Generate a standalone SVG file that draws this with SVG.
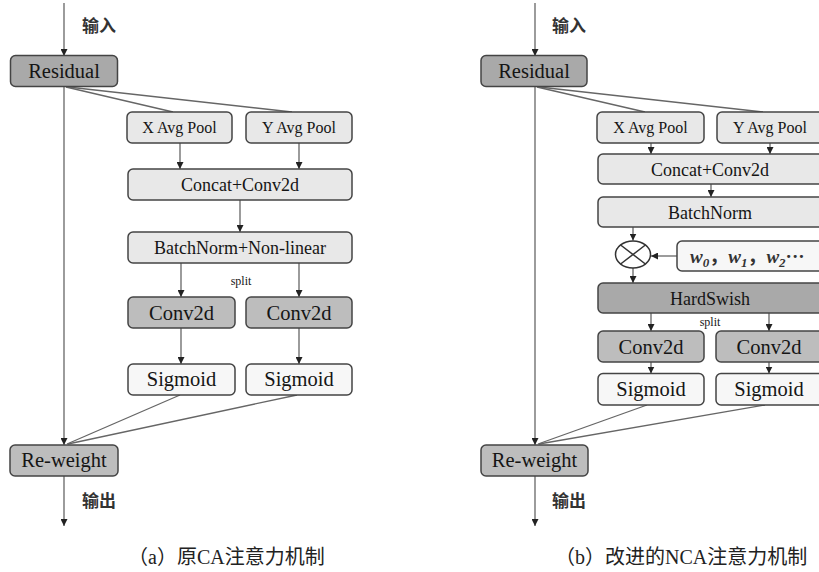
<svg xmlns="http://www.w3.org/2000/svg" width="819" height="572" viewBox="0 0 819 572">
<defs>
<marker id="arr" markerUnits="userSpaceOnUse" markerWidth="7" markerHeight="7" refX="7" refY="3.5" orient="auto">
<path d="M0,0 L7,3.5 L0,7 z" fill="#222"/>
</marker>
<style>
.dark rect{fill:#a9a9a9;stroke:#444;stroke-width:1.5}
.mid rect{fill:#bdbdbd;stroke:#444;stroke-width:1.5}
.light rect{fill:#e8e8e8;stroke:#444;stroke-width:1.5}
.white rect{fill:#f7f7f7;stroke:#444;stroke-width:1.5}
text{font-family:"Liberation Serif",serif;fill:#151515;text-anchor:middle}
.t20{font-size:20.5px}
.t18{font-size:18px}
.t16{font-size:16px}
.small{font-size:12px}
.cjk{font-family:"Noto Sans CJK SC",sans-serif;font-weight:bold;font-size:17px;text-anchor:start;fill:#333}
.cap{font-family:"Liberation Serif","Noto Sans CJK SC",serif;font-size:20px;text-anchor:start;fill:#222}
.wt{font-family:"Liberation Serif","Noto Sans CJK SC",serif;text-anchor:start;font-size:19px;font-weight:bold;font-style:italic;fill:#333}
#connectors line{stroke:#666;stroke-width:1.3;fill:none}
#connectors .a{marker-end:url(#arr)}
</style>
</defs>
<rect width="819" height="572" fill="#fff"/>

<g id="connectors">
<line class="a" x1="64" y1="3" x2="64" y2="56"/>
<line x1="66" y1="87" x2="173" y2="112"/>
<line x1="68" y1="87" x2="292" y2="112"/>
<line class="a" x1="180" y1="143" x2="180" y2="169"/>
<line class="a" x1="299" y1="143" x2="299" y2="169"/>
<line class="a" x1="240" y1="200" x2="240" y2="232"/>
<line class="a" x1="181" y1="263" x2="181" y2="297"/>
<line class="a" x1="299" y1="263" x2="299" y2="297"/>
<line class="a" x1="181" y1="328" x2="181" y2="364"/>
<line class="a" x1="299" y1="328" x2="299" y2="364"/>
<line x1="180" y1="395" x2="67" y2="444"/>
<line x1="297" y1="395" x2="68" y2="444"/>
<line class="a" x1="64" y1="86" x2="64" y2="445"/>
<line class="a" x1="64" y1="476" x2="64" y2="526"/>
<line class="a" x1="535" y1="3" x2="535" y2="56"/>
<line x1="537" y1="87" x2="645" y2="112"/>
<line x1="539" y1="87" x2="763" y2="112"/>
<line class="a" x1="651" y1="143" x2="651" y2="154"/>
<line class="a" x1="770" y1="143" x2="770" y2="154"/>
<line class="a" x1="711" y1="184" x2="711" y2="197"/>
<line class="a" x1="633" y1="227" x2="633" y2="240.5"/>
<line class="a" x1="677" y1="256" x2="651" y2="256"/>
<line class="a" x1="633" y1="268" x2="633" y2="283"/>
<line class="a" x1="651" y1="313" x2="651" y2="331"/>
<line class="a" x1="769" y1="313" x2="769" y2="331"/>
<line class="a" x1="651" y1="362" x2="651" y2="373.5"/>
<line class="a" x1="769" y1="362" x2="769" y2="373.5"/>
<line x1="647" y1="405" x2="538" y2="444"/>
<line x1="765" y1="405" x2="539" y2="444"/>
<line class="a" x1="535" y1="86" x2="535" y2="445"/>
<line class="a" x1="535" y1="476" x2="535" y2="526"/>
</g>

<text class="cjk" x="82" y="32">输入</text>
<g id="residual_a" class="dark"><rect x="10.5" y="55.5" width="107" height="31" rx="5"/><text class="t20" x="64" y="78">Residual</text></g>
<g id="xpool_a" class="light"><rect x="127" y="112" width="105" height="31" rx="5"/><text class="t16" x="179.5" y="133">X Avg Pool</text></g>
<g id="ypool_a" class="light"><rect x="246" y="112" width="106" height="31" rx="5"/><text class="t16" x="299" y="133">Y Avg Pool</text></g>
<g id="concat_a" class="light"><rect x="128" y="169" width="224" height="31" rx="5"/><text class="t18" x="240" y="191">Concat+Conv2d</text></g>
<g id="bn_a" class="light"><rect x="128" y="232" width="224" height="31" rx="5"/><text class="t18" x="240" y="254">BatchNorm+Non-linear</text></g>
<text class="small" x="241" y="285">split</text>
<g id="conv_a1" class="mid"><rect x="128" y="297" width="107" height="31" rx="5"/><text class="t20" x="181.5" y="320">Conv2d</text></g>
<g id="conv_a2" class="mid"><rect x="246" y="297" width="106" height="31" rx="5"/><text class="t20" x="299" y="320">Conv2d</text></g>
<g id="sig_a1" class="white"><rect x="128" y="364" width="107" height="31" rx="5"/><text class="t20" x="181.5" y="386">Sigmoid</text></g>
<g id="sig_a2" class="white"><rect x="246" y="364" width="106" height="31" rx="5"/><text class="t20" x="299" y="386">Sigmoid</text></g>
<g id="reweight_a" class="mid"><rect x="10" y="445" width="108" height="31" rx="5"/><text class="t20" x="64" y="467">Re-weight</text></g>
<text class="cjk" x="82" y="507">输出</text>
<text class="cap" x="128" y="564">（a）原CA注意力机制</text>

<text class="cjk" x="552" y="32">输入</text>
<g id="residual_b" class="dark"><rect x="481" y="55.5" width="106" height="31" rx="5"/><text class="t20" x="534" y="78">Residual</text></g>
<g id="xpool_b" class="light"><rect x="597" y="112" width="107" height="31" rx="5"/><text class="t16" x="650.5" y="133">X Avg Pool</text></g>
<g id="ypool_b" class="light"><rect x="717" y="112" width="106" height="31" rx="5"/><text class="t16" x="770" y="133">Y Avg Pool</text></g>
<g id="concat_b" class="light"><rect x="598" y="154" width="226" height="30" rx="5"/><text class="t18" x="710" y="176">Concat+Conv2d</text></g>
<g id="bn_b" class="light"><rect x="598" y="197" width="226" height="30" rx="5"/><text class="t18" x="710" y="219">BatchNorm</text></g>
<g id="mult_b"><ellipse cx="633" cy="254.5" rx="17.5" ry="13.5" fill="#fff" stroke="#333" stroke-width="1.5"/><path d="M620.6,245 L645.4,264 M645.4,245 L620.6,264" stroke="#333" stroke-width="1.5"/></g>
<g id="wbox_b" class="white"><rect x="677" y="241" width="146" height="30" rx="5"/>
<text class="wt" x="690" y="263">w<tspan font-size="13" dy="4">0</tspan><tspan dy="-4" font-style="normal">，</tspan><tspan>w</tspan><tspan font-size="13" dy="4">1</tspan><tspan dy="-4" font-style="normal">，</tspan><tspan>w</tspan><tspan font-size="13" dy="4">2</tspan><tspan dy="-4" font-style="normal">···</tspan></text></g>
<g id="hardswish_b" class="dark"><rect x="598" y="283" width="226" height="30" rx="5"/><text class="t18" x="710" y="305">HardSwish</text></g>
<text class="small" x="710" y="326">split</text>
<g id="conv_b1" class="mid"><rect x="598" y="331" width="106" height="31" rx="5"/><text class="t20" x="651" y="354">Conv2d</text></g>
<g id="conv_b2" class="mid"><rect x="716" y="331" width="107" height="31" rx="5"/><text class="t20" x="769" y="354">Conv2d</text></g>
<g id="sig_b1" class="white"><rect x="598" y="373.5" width="106" height="31.5" rx="5"/><text class="t20" x="651" y="396">Sigmoid</text></g>
<g id="sig_b2" class="white"><rect x="716" y="373.5" width="107" height="31.5" rx="5"/><text class="t20" x="769" y="396">Sigmoid</text></g>
<g id="reweight_b" class="mid"><rect x="481" y="445" width="107" height="31" rx="5"/><text class="t20" x="534.5" y="467">Re-weight</text></g>
<text class="cjk" x="552" y="507">输出</text>
<text class="cap" x="555" y="564">（b）改进的NCA注意力机制</text>
</svg>
